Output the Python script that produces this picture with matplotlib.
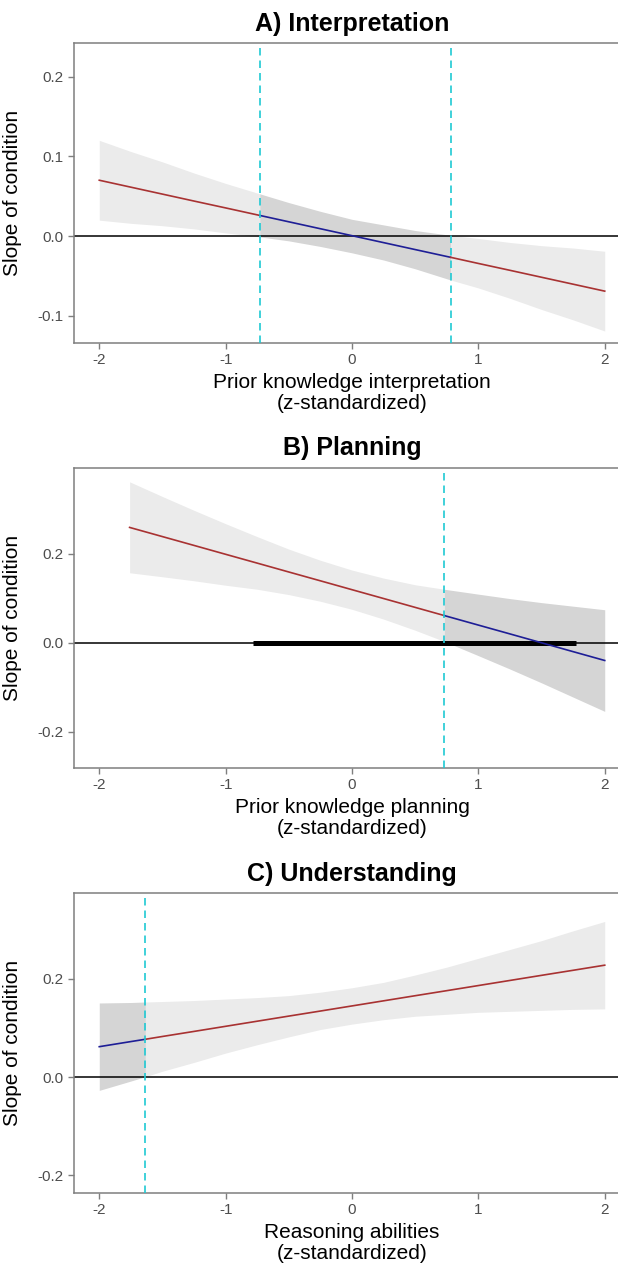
import numpy as np
import matplotlib
matplotlib.use("Agg")
import matplotlib.pyplot as plt

plt.rcParams["font.family"] = ["Liberation Sans", "DejaVu Sans"]
plt.rcParams["axes.unicode_minus"] = False

# A) Interpretation: slope of condition across prior knowledge
mod_a = [-2.0, -1.75, -1.5, -1.25, -1.0, -0.73, -0.5, -0.25, 0.0,
         0.25, 0.5, 0.78, 1.0, 1.25, 1.5, 1.75, 2.0]
slope_a = [0.0700, 0.0613, 0.0526, 0.0439, 0.0353, 0.0259, 0.0179, 0.0092, 0.0005,
           -0.0082, -0.0169, -0.0266, -0.0343, -0.0429, -0.0516, -0.0603, -0.0690]
upper_a = [0.120, 0.106, 0.093, 0.079, 0.066, 0.053, 0.042, 0.031, 0.021,
           0.014, 0.007, 0.001, -0.003, -0.008, -0.012, -0.015, -0.019]
lower_a = [0.020, 0.016, 0.013, 0.009, 0.004, -0.001, -0.006, -0.013, -0.021,
           -0.030, -0.041, -0.055, -0.065, -0.078, -0.092, -0.105, -0.119]
jn_a = [-0.73, 0.78]

# B) Planning
mod_b = [-1.76, -1.5, -1.25, -1.0, -0.75, -0.5, -0.25, 0.0,
         0.25, 0.5, 0.73, 1.0, 1.25, 1.5, 1.75, 2.0]
slope_b = [0.2587, 0.2381, 0.2183, 0.1984, 0.1786, 0.1587, 0.1389, 0.1190,
           0.0992, 0.0793, 0.0610, 0.0396, 0.0198, -0.0001, -0.0200, -0.0398]
upper_b = [0.361, 0.328, 0.297, 0.267, 0.238, 0.210, 0.185, 0.163,
           0.145, 0.130, 0.120, 0.109, 0.099, 0.090, 0.082, 0.074]
lower_b = [0.157, 0.148, 0.139, 0.129, 0.120, 0.108, 0.093, 0.075,
           0.053, 0.028, 0.003, -0.029, -0.059, -0.090, -0.122, -0.154]
jn_b = [0.73]
range_b = [-0.78, 1.77]

# C) Understanding: slope of condition across reasoning abilities
mod_c = [-2.0, -1.75, -1.635, -1.5, -1.25, -1.0, -0.75, -0.5, -0.25, 0.0,
         0.25, 0.5, 0.75, 1.0, 1.25, 1.5, 1.75, 2.0]
slope_c = [0.0620, 0.0724, 0.0771, 0.0828, 0.0931, 0.1035, 0.1139, 0.1243, 0.1346, 0.1450,
           0.1554, 0.1658, 0.1761, 0.1865, 0.1969, 0.2073, 0.2176, 0.2280]
upper_c = [0.151, 0.152, 0.153, 0.154, 0.156, 0.159, 0.162, 0.166, 0.173, 0.182,
           0.193, 0.208, 0.224, 0.242, 0.260, 0.278, 0.298, 0.317]
lower_c = [-0.027, -0.008, 0.001, 0.012, 0.030, 0.049, 0.066, 0.082, 0.097, 0.108,
           0.117, 0.124, 0.128, 0.132, 0.134, 0.136, 0.138, 0.139]
jn_c = [-1.635]

x_ticks = [-2, -1, 0, 1, 2]

SIG_LINE = "#A83232"
NS_LINE = "#1E1E96"
SIG_FILL = "#EBEBEB"
NS_FILL = "#D5D5D5"
JN_COLOR = "#1FC9D3"
SPINE = "#7F7F7F"


def segments(mod, bounds):
    """Split the moderator range at the Johnson-Neyman bounds."""
    edges = [mod[0]] + list(bounds) + [mod[-1]]
    return list(zip(edges[:-1], edges[1:]))


def jn_panel(ax, mod, slope, upper, lower, bounds, ns_first, title, xlabel,
             yticks, ylim, obs_range=None):
    mod = np.asarray(mod)
    slope = np.asarray(slope)
    upper = np.asarray(upper)
    lower = np.asarray(lower)

    ns = ns_first
    for a, b in segments(mod, bounds):
        m = (mod >= a - 1e-9) & (mod <= b + 1e-9)
        ax.fill_between(mod[m], lower[m], upper[m], color=NS_FILL if ns else SIG_FILL,
                        lw=0, zorder=1)
        ax.plot(mod[m], slope[m], color=NS_LINE if ns else SIG_LINE, lw=1.2, zorder=3)
        ns = not ns

    ax.axhline(0, color="black", lw=1.1, zorder=2)
    if obs_range is not None:
        ax.plot(obs_range, [0, 0], color="black", lw=3.6, solid_capstyle="butt", zorder=2)
    for b in bounds:
        ax.axvline(b, color=JN_COLOR, lw=1.2, ls=(0, (4.5, 3)), zorder=4)

    ax.set_xlim(-2.2, 2.2)
    ax.set_ylim(*ylim)
    ax.set_xticks(x_ticks)
    ax.set_yticks(yticks)
    ax.set_yticklabels([f"{t:.1f}" for t in yticks])
    ax.tick_params(colors=SPINE, labelcolor="#4D4D4D", labelsize=11, length=4, width=1)
    for s in ax.spines.values():
        s.set_color(SPINE)
        s.set_linewidth(1.1)
    ax.set_title(title, fontsize=18, fontweight="bold", pad=9)
    ax.set_xlabel(xlabel, fontsize=15, linespacing=1.15)
    ax.set_ylabel("Slope of condition", fontsize=15)
    ax.yaxis.set_label_coords(-0.094, 0.5)


fig = plt.figure(figsize=(6.18, 12.68), dpi=100)
H = 1268.0
left, width = 74 / 618, 556 / 618
ax_a = fig.add_axes([left, 1 - 343 / H, width, 300 / H])
ax_b = fig.add_axes([left, 1 - 768 / H, width, 300 / H])
ax_c = fig.add_axes([left, 1 - 1193 / H, width, 300 / H])

jn_panel(ax_a, mod_a, slope_a, upper_a, lower_a, jn_a, False,
         "A) Interpretation", "Prior knowledge interpretation\n(z-standardized)",
         [-0.1, 0.0, 0.1, 0.2], (-0.134, 0.242))
jn_panel(ax_b, mod_b, slope_b, upper_b, lower_b, jn_b, False,
         "B) Planning", "Prior knowledge planning\n(z-standardized)",
         [-0.2, 0.0, 0.2], (-0.281, 0.392), obs_range=range_b)
jn_panel(ax_c, mod_c, slope_c, upper_c, lower_c, jn_c, True,
         "C) Understanding", "Reasoning abilities\n(z-standardized)",
         [-0.2, 0.0, 0.2], (-0.236, 0.375))

fig.savefig("out.png", dpi=100)
